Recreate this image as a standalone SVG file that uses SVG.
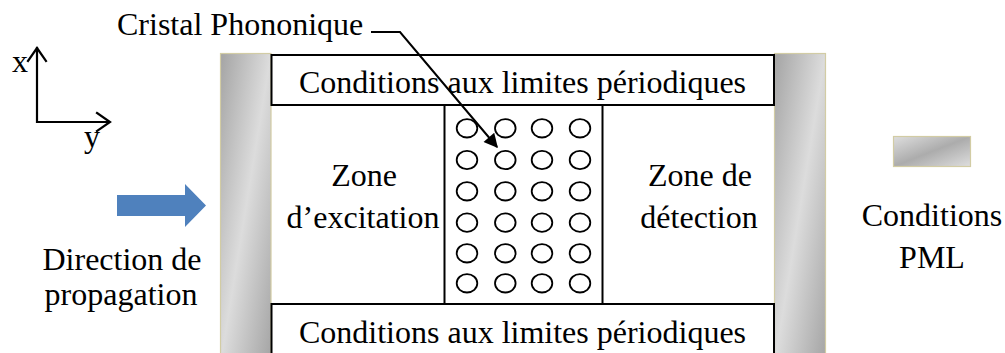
<svg xmlns="http://www.w3.org/2000/svg" width="1005" height="353" viewBox="0 0 1005 353">
  <style>
    text { font-family: "Liberation Serif", "Times New Roman", serif; font-size: 32px; fill: #000; }
    .mid { text-anchor: middle; }
    .box { fill: #fff; stroke: #000; stroke-width: 2; }
    .pml { fill: url(#pmlGrad); stroke: #d2cca4; stroke-width: 1.2; }
    .hole { fill: none; stroke: #000; stroke-width: 1.8; }
    .axis { fill: none; stroke: #000; stroke-width: 2.2; stroke-linecap: square; }
    .lead { fill: none; stroke: #000; stroke-width: 2; }
  </style>
  <defs>
    <linearGradient id="pmlGrad" x1="0" y1="0" x2="1" y2="1">
      <stop offset="0" stop-color="#a4a4a4"/>
      <stop offset="0.5" stop-color="#dcdcdc"/>
      <stop offset="1" stop-color="#a4a4a4"/>
    </linearGradient>
    <linearGradient id="pmlLegendGrad" x1="0" y1="0" x2="1" y2="1">
      <stop offset="0" stop-color="#dedede"/>
      <stop offset="0.5" stop-color="#acacac"/>
      <stop offset="1" stop-color="#dedede"/>
    </linearGradient>
    <marker id="tip" viewBox="0 0 10 10" refX="10" refY="5" markerWidth="8" markerHeight="8" markerUnits="userSpaceOnUse" orient="auto">
      <path d="M0,0 L10,5 L0,10 z" fill="#000"/>
    </marker>
    <marker id="tipBig" viewBox="0 0 10 10" refX="9" refY="5" markerWidth="16" markerHeight="14" markerUnits="userSpaceOnUse" orient="auto">
      <path d="M0,0 L10,5 L0,10 z" fill="#000"/>
    </marker>
  </defs>

  <rect width="1005" height="353" fill="#fff"/>

  <!-- axes -->
  <g id="axes">
    <path class="axis" d="M37,122 V48 M37,122 H109"/>
    <path class="axis" d="M28,61 L37,48 L46,61"/>
    <path class="axis" d="M97,113 L110,122 L97,131"/>
    <text x="12" y="72">x</text>
    <text x="84" y="147">y</text>
  </g>

  <!-- absorbing layers on both sides -->
  <g id="pml-left">
    <rect class="pml" x="220.5" y="53.5" width="50.5" height="310"/>
  </g>
  <g id="pml-right">
    <rect class="pml" x="774.5" y="53.5" width="51" height="310"/>
  </g>

  <!-- periodic boundary strips -->
  <g id="periodic-top">
    <rect class="box" x="271.5" y="55" width="502.5" height="50"/>
    <text class="mid" x="522.5" y="93">Conditions aux limites périodiques</text>
  </g>
  <g id="periodic-bottom">
    <rect class="box" x="271.5" y="304" width="502.5" height="60"/>
    <text class="mid" x="522.5" y="343">Conditions aux limites périodiques</text>
  </g>

  <!-- phononic crystal: 4 x 6 lattice of inclusions -->
  <g id="crystal">
    <rect class="box" x="444.5" y="105" width="158" height="199"/>
    <g id="holes">
      <ellipse class="hole" cx="467" cy="128.3" rx="10.3" ry="9.2"/>
      <ellipse class="hole" cx="505.3" cy="128.3" rx="10.3" ry="9.2"/>
      <ellipse class="hole" cx="542" cy="128.3" rx="10.3" ry="9.2"/>
      <ellipse class="hole" cx="580" cy="128.3" rx="10.3" ry="9.2"/>
      <ellipse class="hole" cx="467" cy="160" rx="10.3" ry="9.2"/>
      <ellipse class="hole" cx="505.3" cy="160" rx="10.3" ry="9.2"/>
      <ellipse class="hole" cx="542" cy="160" rx="10.3" ry="9.2"/>
      <ellipse class="hole" cx="580" cy="160" rx="10.3" ry="9.2"/>
      <ellipse class="hole" cx="467" cy="191.3" rx="10.3" ry="9.2"/>
      <ellipse class="hole" cx="505.3" cy="191.3" rx="10.3" ry="9.2"/>
      <ellipse class="hole" cx="542" cy="191.3" rx="10.3" ry="9.2"/>
      <ellipse class="hole" cx="580" cy="191.3" rx="10.3" ry="9.2"/>
      <ellipse class="hole" cx="467" cy="222.6" rx="10.3" ry="9.2"/>
      <ellipse class="hole" cx="505.3" cy="222.6" rx="10.3" ry="9.2"/>
      <ellipse class="hole" cx="542" cy="222.6" rx="10.3" ry="9.2"/>
      <ellipse class="hole" cx="580" cy="222.6" rx="10.3" ry="9.2"/>
      <ellipse class="hole" cx="467" cy="253.3" rx="10.3" ry="9.2"/>
      <ellipse class="hole" cx="505.3" cy="253.3" rx="10.3" ry="9.2"/>
      <ellipse class="hole" cx="542" cy="253.3" rx="10.3" ry="9.2"/>
      <ellipse class="hole" cx="580" cy="253.3" rx="10.3" ry="9.2"/>
      <ellipse class="hole" cx="467" cy="283.3" rx="10.3" ry="9.2"/>
      <ellipse class="hole" cx="505.3" cy="283.3" rx="10.3" ry="9.2"/>
      <ellipse class="hole" cx="542" cy="283.3" rx="10.3" ry="9.2"/>
      <ellipse class="hole" cx="580" cy="283.3" rx="10.3" ry="9.2"/>
    </g>
  </g>

  <!-- zone labels -->
  <g id="zone-excitation">
    <text class="mid" x="364" y="186">Zone</text>
    <text class="mid" x="363" y="228">d’excitation</text>
  </g>
  <g id="zone-detection">
    <text class="mid" x="700" y="186">Zone de</text>
    <text class="mid" x="699" y="228">détection</text>
  </g>

  <!-- incident wave direction -->
  <g id="direction">
    <path d="M117,195 H185 V184 L206,205.5 L185,227 V216 H117 z" fill="#4f81bd"/>
    <text class="mid" x="122" y="270">Direction de</text>
    <text class="mid" x="121" y="305">propagation</text>
  </g>

  <!-- PML legend -->
  <g id="legend-pml">
    <rect x="893.5" y="136.5" width="77" height="30" fill="url(#pmlLegendGrad)" stroke="#d2cca4" stroke-width="1.2"/>
    <text class="mid" x="932" y="226">Conditions</text>
    <text class="mid" x="932" y="268">PML</text>
  </g>

  <!-- crystal caption -->
  <g id="caption">
    <text x="117" y="35">Cristal Phononique</text>
  </g>

  <g id="connectors">
    <path class="lead" d="M371,32 H400 L497,147" marker-end="url(#tipBig)"/>
  </g>
</svg>
